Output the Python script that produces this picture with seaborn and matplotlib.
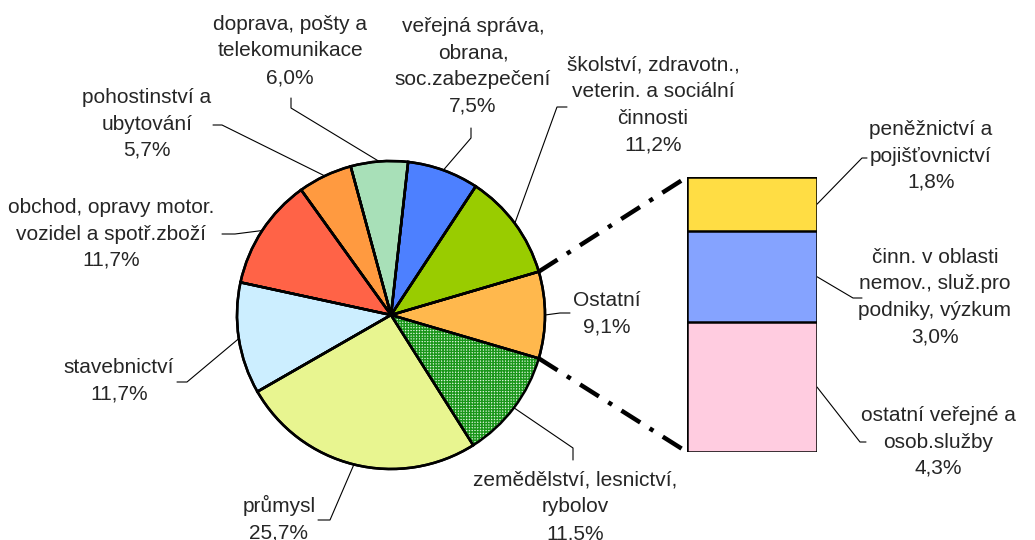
import numpy as np
import matplotlib
matplotlib.use("Agg")
import matplotlib.pyplot as plt
import seaborn as sns

# data: pie of sectors, "Ostatní" broken down in the bar
pie_labels = ["Ostatní",
              "školství, zdravotn.,\nveterin. a sociální\nčinnosti",
              "veřejná správa,\nobrana,\nsoc.zabezpečení",
              "doprava, pošty a\ntelekomunikace",
              "pohostinství a\nubytování",
              "obchod, opravy motor.\nvozidel a spotř.zboží",
              "stavebnictví",
              "průmysl",
              "zemědělství, lesnictví,\nrybolov"]
pie_values = [9.1, 11.2, 7.5, 6.0, 5.7, 11.7, 11.7, 25.7, 11.5]
pie_colors = ["#FFB84D", "#99CC00", "#4D80FF", "#A8E0B8", "#FF9A40",
              "#FF6347", "#CCEEFF", "#E8F590", "#DDF3DD"]

bar_labels = ["peněžnictví a\npojišťovnictví",
              "činn. v oblasti\nnemov., služ.pro\npodniky, výzkum",
              "ostatní veřejné a\nosob.služby"]
bar_values = [1.8, 3.0, 4.3]          # top to bottom
bar_colors = ["#FFDD44", "#85A3FF", "#FFCCE0"]

# label layout in pixels: text centre, leader elbow, stub end
pie_text_pos = [(607, 314), (653, 105), (473, 66), (290, 51), (147, 124),
                (111, 234), (119, 381), (279, 519), (575, 507)]
pie_elbow = [(560, 313), (557, 107), (471, 138), (291, 108), (222, 125),
             (235, 234), (187, 382), (330, 520), (573, 448)]
pie_stub = [(570, 313), (567, 107), (471, 128), (291, 98), (213, 125),
            (222, 234), (177, 382), (318, 520), (573, 460)]
bar_text_pos = [(931, 156), (935, 297), (938, 442)]
bar_elbow = [(862, 158), (853, 298), (860, 442)]
bar_stub = [(867, 158), (862, 298), (866, 442)]

sns.set_style("white")
plt.rcParams["font.family"] = ["Liberation Sans", "DejaVu Sans"]
plt.rcParams["hatch.linewidth"] = 1.0

W, H = 1035, 540
fig = plt.figure(figsize=(W / 100, H / 100), dpi=100)

def px_box(x0, y0, x1, y1):
    return [x0 / W, 1 - y1 / H, (x1 - x0) / W, (y1 - y0) / H]

# pie
pax = fig.add_axes(px_box(237, 161, 545, 469))
start = -pie_values[0] / sum(pie_values) * 360 / 2
wedges, _ = pax.pie(pie_values, colors=pie_colors, startangle=start,
                    counterclock=True,
                    wedgeprops=dict(edgecolor="black", linewidth=1.8))
wedges[8].set_hatch("++++++")
wedges[8].set_edgecolor("#1A961A")
wedges[8].set_linewidth(0)
# outline again in black over the hatched slice
pax.pie(pie_values, colors=["none"] * len(pie_values), startangle=start,
        counterclock=True,
        wedgeprops=dict(edgecolor="black", linewidth=1.8, fill=False))
pax.set_xlim(-1, 1)
pax.set_ylim(-1, 1)
pax.axis("off")

# stacked bar, drawn as overlapping cumulative bars
bax = fig.add_axes(px_box(687, 177, 817, 452))
cum = np.cumsum(bar_values[::-1])     # bottom up
for h, c in zip(cum[::-1], bar_colors):
    sns.barplot(x=[0], y=[h], color=c, saturation=1, width=0.8,
                edgecolor="black", linewidth=1.8, ax=bax)
bax.set_xlim(-0.4, 0.4)
bax.set_ylim(0, cum[-1])
bax.axis("off")

# overlay in pixel coords
ov = fig.add_axes([0, 0, 1, 1], zorder=-1)
ov.set_xlim(0, W)
ov.set_ylim(H, 0)
ov.axis("off")
ov.patch.set_alpha(0)
inv = ov.transData.inverted()

def to_px(ax, x, y):
    return inv.transform(ax.transData.transform((x, y)))

def pct(v):
    return f"{v:.1f}%".replace(".", ",")

FS, LS = 15, 1.5

angles = start + 360 * (np.cumsum(pie_values) - np.array(pie_values) / 2) / sum(pie_values)
for i, (lab, v) in enumerate(zip(pie_labels, pie_values)):
    a = np.deg2rad(angles[i])
    ex, ey = to_px(pax, np.cos(a), np.sin(a))
    (mx, my), (sx, sy) = pie_elbow[i], pie_stub[i]
    ov.plot([ex, mx, sx], [ey, my, sy], color="black", lw=0.8)
    tx, ty = pie_text_pos[i]
    ov.text(tx, ty, lab + "\n" + pct(v), ha="center", va="center",
            fontsize=FS, linespacing=LS)

tops = np.cumsum(bar_values)
for i, (lab, v) in enumerate(zip(bar_labels, bar_values)):
    ex, ey = to_px(bax, 0.4, cum[-1] - (tops[i] - v / 2))
    (mx, my), (sx, sy) = bar_elbow[i], bar_stub[i]
    ov.plot([ex, mx, sx], [ey, my, sy], color="black", lw=0.8)
    tx, ty = bar_text_pos[i]
    ov.text(tx, ty, lab + "\n" + pct(v), ha="center", va="center",
            fontsize=FS, linespacing=LS)

# dash-dot connectors between Ostatní slice and bar
a0, a1 = np.deg2rad(start), np.deg2rad(-start)
for a, by in [(a1, cum[-1]), (a0, 0)]:
    p0 = to_px(pax, 1.0 * np.cos(a), 1.0 * np.sin(a))
    p1 = to_px(bax, -0.4, by)
    ov.plot([p0[0], p1[0]], [p0[1], p1[1]], color="black", lw=3.2,
            linestyle=(0, (5, 2.5, 1, 2.5)), solid_capstyle="butt")

fig.savefig("out.png", dpi=100)
